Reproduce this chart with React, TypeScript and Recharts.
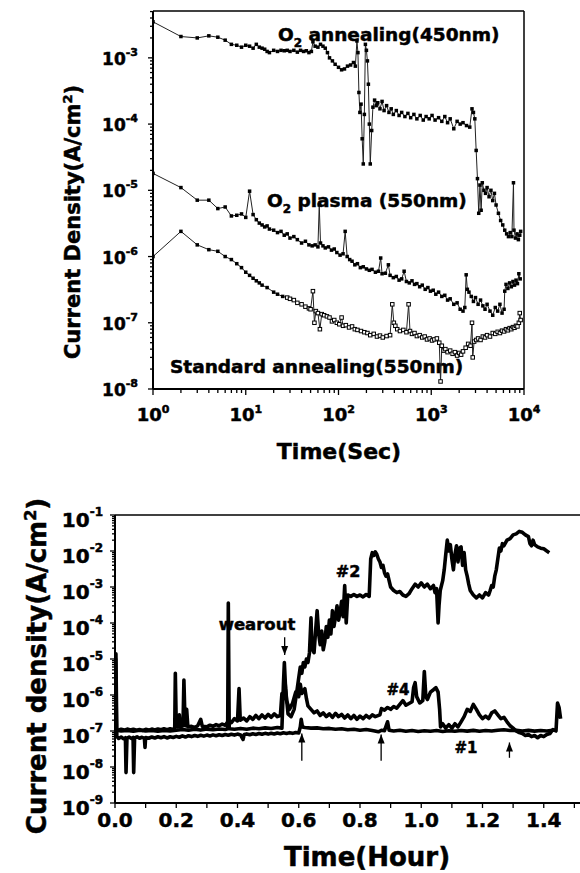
import React from "react";
import {
  LineChart, Line, XAxis, YAxis, ReferenceLine, ReferenceDot, Customized
} from "recharts";

const FONT = "'DejaVu Sans', 'Liberation Sans', Arial, sans-serif";

// ---- top panel: current density vs time (sec), log-log ----
const o2Anneal450: [number, number][] = [
  [1, 3.5e-3], [2, 2.1e-3], [3, 2.0e-3], [4, 2.15e-3], [5, 2.05e-3], [6, 1.85e-3], [7, 1.6e-3],
  [8, 1.55e-3], [9, 1.45e-3], [10, 1.55e-3], [11, 1.5e-3], [12, 1.4e-3], [13, 1.6e-3], [14, 1.45e-3],
  [15, 1.4e-3], [16, 1.35e-3], [17, 1.25e-3], [18, 1.2e-3], [20, 1.3e-3], [22, 1.25e-3], [24, 1.3e-3],
  [26, 1.28e-3], [28, 1.3e-3], [30, 1.25e-3], [33, 1.3e-3], [36, 1.22e-3], [39, 1.3e-3], [42, 1.25e-3],
  [45, 1.28e-3], [48, 1.2e-3], [51, 1.25e-3], [53, 1.75e-3], [56, 1.5e-3], [60, 1.45e-3], [64, 1.6e-3],
  [68, 1.5e-3], [72, 1.4e-3], [76, 1.2e-3], [80, 1.0e-3], [86, 9e-4], [92, 8e-4], [100, 7.2e-4],
  [108, 6.6e-4], [116, 6.8e-4], [125, 7.5e-4], [135, 7.8e-4], [145, 8.5e-4], [152, 7.5e-4], [158, 1.8e-3],
  [162, 1.2e-3], [166, 3e-4], [170, 1.5e-4], [175, 2e-4], [180, 6e-5], [185, 2.5e-5], [190, 1.4e-4],
  [195, 1.6e-3], [200, 1.3e-3], [205, 9e-4], [210, 4e-4], [215, 1e-4], [220, 2.5e-5], [228, 8e-5],
  [235, 1.8e-4], [245, 2.3e-4], [255, 1.9e-4], [265, 2.1e-4], [280, 1.7e-4], [295, 2.2e-4], [310, 1.6e-4],
  [330, 1.9e-4], [350, 1.5e-4], [370, 1.7e-4], [390, 1.4e-4], [420, 1.6e-4], [450, 1.35e-4], [480, 1.5e-4],
  [520, 1.3e-4], [560, 1.45e-4], [600, 1.25e-4], [650, 1.4e-4], [700, 1.2e-4], [760, 1.35e-4], [820, 1.15e-4],
  [880, 1.3e-4], [950, 1.2e-4], [1020, 1.35e-4], [1100, 1.15e-4], [1200, 1.25e-4], [1300, 1.1e-4],
  [1400, 1.3e-4], [1500, 1.05e-4], [1600, 1.2e-4], [1750, 8.5e-5], [1900, 1.1e-4], [2050, 1.0e-4],
  [2200, 1.05e-4], [2400, 9.5e-5], [2600, 9e-5], [2750, 1.7e-4], [2850, 1.5e-4], [2950, 1.2e-4],
  [3050, 4e-5], [3150, 1.5e-5], [3250, 4.5e-6], [3350, 1.2e-5], [3450, 5e-6], [3550, 1.3e-5],
  [3700, 1.0e-5], [3850, 9e-6], [4000, 1.1e-5], [4200, 8e-6], [4400, 1.0e-5], [4600, 7e-6], [4800, 9e-6],
  [5000, 6e-6], [5300, 4.5e-6], [5600, 3.5e-6], [5900, 3e-6], [6200, 2.5e-6], [6500, 2.2e-6], [6800, 2.0e-6],
  [7100, 2.3e-6], [7400, 2.0e-6], [7700, 1.3e-5], [7800, 2.5e-6], [8100, 1.9e-6], [8400, 2.2e-6],
  [8700, 1.8e-6], [9000, 2.1e-6], [9200, 2.4e-6],
];

const o2Plasma550: [number, number][] = [
  [1, 1.8e-5], [2, 1.1e-5], [3, 7.1e-6], [4, 7.1e-6], [5, 5.3e-6], [6, 5.6e-6], [7, 4.1e-6], [8, 4.2e-6],
  [9, 4.4e-6], [10, 3.9e-6], [11, 9.7e-6], [12, 4.3e-6], [13, 3.6e-6], [14, 3.2e-6], [15, 3.0e-6],
  [16, 2.8e-6], [17, 2.9e-6], [18, 2.6e-6], [20, 2.5e-6], [22, 2.3e-6], [24, 2.4e-6], [26, 2.1e-6],
  [28, 2.2e-6], [30, 1.9e-6], [33, 2.0e-6], [36, 1.8e-6], [40, 1.6e-6], [44, 1.7e-6], [48, 1.5e-6],
  [52, 1.45e-6], [56, 1.5e-6], [60, 1.4e-6], [62, 6e-6], [64, 1.6e-6], [68, 1.45e-6], [72, 1.35e-6],
  [78, 1.4e-6], [84, 1.25e-6], [90, 1.3e-6], [96, 1.15e-6], [104, 1.05e-6], [112, 1.1e-6], [118, 2.4e-6],
  [124, 1.0e-6], [132, 9e-7], [140, 8.5e-7], [150, 7.5e-7], [160, 7.8e-7], [172, 6.8e-7], [185, 7e-7],
  [200, 6.5e-7], [215, 6.2e-7], [230, 6.4e-7], [250, 5.8e-7], [270, 6e-7], [285, 9.5e-7], [295, 5.5e-7],
  [320, 5.6e-7], [345, 7.5e-7], [360, 5.2e-7], [390, 4.8e-7], [420, 5e-7], [450, 4.4e-7], [480, 4.6e-7],
  [510, 6e-7], [540, 4.2e-7], [580, 4.0e-7], [620, 4.3e-7], [660, 3.8e-7], [700, 3.9e-7], [750, 3.5e-7],
  [800, 3.7e-7], [860, 3.2e-7], [920, 3.4e-7], [980, 3.0e-7], [1050, 3.1e-7], [1120, 2.7e-7],
  [1200, 2.9e-7], [1300, 2.5e-7], [1400, 2.6e-7], [1500, 2.2e-7], [1600, 2.3e-7], [1750, 1.9e-7],
  [1900, 2.0e-7], [2050, 1.6e-7], [2200, 1.5e-7], [2300, 1.7e-7], [2380, 5.3e-7], [2450, 3.2e-7],
  [2550, 2.9e-7], [2700, 2.5e-7], [2850, 2.1e-7], [3000, 2.4e-7], [3200, 1.9e-7], [3400, 2.2e-7],
  [3600, 1.8e-7], [3800, 1.6e-7], [4000, 1.9e-7], [4300, 1.5e-7], [4600, 1.3e-7], [4900, 1.7e-7],
  [5200, 1.5e-7], [5500, 1.9e-7], [5800, 1.4e-7], [6100, 1.6e-7], [6200, 3e-7], [6400, 3.8e-7],
  [6700, 3.3e-7], [7000, 4.0e-7], [7300, 3.5e-7], [7600, 4.2e-7], [7900, 3.7e-7], [8200, 4.4e-7],
  [8500, 3.9e-7], [8800, 5.5e-7], [9100, 4.6e-7],
];

const stdAnneal550: [number, number][] = [
  [1, 1.0e-6], [2, 2.4e-6], [3, 1.5e-6], [4, 1.27e-6], [5, 1.2e-6], [6, 1.0e-6], [7, 9e-7], [8, 7.8e-7],
  [9, 6.8e-7], [10, 5.8e-7], [11, 5.2e-7], [12, 4.7e-7], [13, 4.3e-7], [14, 4.0e-7], [15, 3.7e-7],
  [17, 3.4e-7], [20, 2.9e-7], [22, 2.7e-7], [25, 2.5e-7], [28, 2.4e-7], [30, 2.3e-7], [33, 2.2e-7],
  [36, 2.0e-7], [40, 1.9e-7], [44, 1.75e-7], [48, 1.65e-7], [50, 1.6e-7], [53, 3.0e-7], [55, 1.0e-7],
  [57, 1.5e-7], [60, 1.4e-7], [63, 8e-8], [66, 1.35e-7], [70, 1.3e-7], [75, 1.25e-7], [80, 1.2e-7],
  [85, 1.05e-7], [90, 1.1e-7], [96, 1.0e-7], [102, 9.5e-8], [108, 1.2e-7], [112, 9e-8], [120, 9.2e-8],
  [130, 8.5e-8], [140, 8.8e-8], [150, 8e-8], [160, 7.8e-8], [175, 7.5e-8], [190, 7.2e-8], [205, 7.0e-8],
  [220, 6.5e-8], [240, 6.8e-8], [260, 6.2e-8], [280, 6.4e-8], [300, 6.0e-8], [330, 6.3e-8], [360, 6.5e-8],
  [380, 1.9e-7], [395, 1.0e-7], [410, 9e-8], [430, 8e-8], [460, 7.5e-8], [500, 7.8e-8], [540, 7.2e-8],
  [570, 1.9e-7], [590, 7.5e-8], [620, 6.8e-8], [660, 7e-8], [700, 6.3e-8], [750, 6.5e-8], [800, 6.0e-8],
  [850, 6.2e-8], [900, 5.6e-8], [960, 5.8e-8], [1020, 5.4e-8], [1080, 5.6e-8], [1150, 5.8e-8], [1220, 5e-8],
  [1260, 1.3e-8], [1300, 4.5e-8], [1360, 3.8e-8], [1420, 4e-8], [1500, 3.6e-8], [1600, 3.8e-8],
  [1700, 3.4e-8], [1800, 3.6e-8], [1900, 3.2e-8], [2000, 3.5e-8], [2100, 3.3e-8], [2200, 3.7e-8],
  [2350, 4.2e-8], [2500, 4.8e-8], [2650, 4.5e-8], [2750, 1.0e-7], [2800, 3e-8], [2900, 5.2e-8],
  [3050, 5.5e-8], [3200, 5.8e-8], [3400, 5.5e-8], [3600, 6.2e-8], [3800, 6e-8], [4000, 6.5e-8],
  [4300, 6.2e-8], [4600, 7e-8], [4900, 6.8e-8], [5200, 7.3e-8], [5500, 7e-8], [5800, 7.6e-8],
  [6100, 7.4e-8], [6400, 8e-8], [6700, 7.7e-8], [7000, 8.3e-8], [7300, 8e-8], [7600, 8.6e-8],
  [7900, 8.4e-8], [8200, 9e-8], [8500, 8.8e-8], [8800, 1.0e-7], [9000, 1.4e-7], [9200, 1.1e-7],
];

// ---- bottom panel: current density vs time (hour), log y ----
const sample1: [number, number][] = [
  [0, 8e-8], [0.003, 1.4e-5], [0.006, 7e-8], [0.012, 6.2e-8], [0.02, 6.8e-8], [0.028, 6.1e-8],
  [0.034, 6.5e-8], [0.036, 7e-9], [0.039, 6.3e-8], [0.046, 6.8e-8], [0.054, 6.2e-8], [0.059, 6.6e-8],
  [0.061, 7e-9], [0.064, 6.4e-8], [0.072, 6.9e-8], [0.08, 6.3e-8], [0.088, 6.7e-8], [0.096, 6.2e-8],
  [0.098, 3.5e-8], [0.1, 6.6e-8], [0.11, 6.3e-8], [0.12, 6.8e-8], [0.13, 6.4e-8], [0.14, 6.9e-8],
  [0.15, 6.5e-8], [0.16, 7e-8], [0.17, 6.4e-8], [0.18, 6.9e-8], [0.19, 6.6e-8], [0.2, 7.1e-8],
  [0.21, 6.7e-8], [0.22, 7.3e-8], [0.23, 6.8e-8], [0.24, 7.4e-8], [0.25, 7e-8], [0.26, 7.5e-8],
  [0.27, 7.1e-8], [0.28, 7.6e-8], [0.29, 7.2e-8], [0.3, 7.7e-8], [0.31, 7.3e-8], [0.32, 7.8e-8],
  [0.33, 7.4e-8], [0.34, 7.9e-8], [0.35, 7.5e-8], [0.36, 8e-8], [0.37, 7.6e-8], [0.38, 8.1e-8],
  [0.39, 7.7e-8], [0.4, 8.2e-8], [0.41, 7.8e-8], [0.418, 5.8e-8], [0.422, 8e-8], [0.43, 8.3e-8],
  [0.44, 7.9e-8], [0.45, 8.4e-8], [0.46, 8e-8], [0.47, 8.5e-8], [0.48, 8.1e-8], [0.49, 8.6e-8],
  [0.5, 8.2e-8], [0.51, 8.7e-8], [0.52, 8.3e-8], [0.53, 8.8e-8], [0.54, 8.4e-8], [0.55, 8.9e-8],
  [0.56, 8.5e-8], [0.57, 9e-8], [0.58, 8.6e-8], [0.59, 9.1e-8], [0.6, 8.8e-8], [0.605, 1.3e-7],
  [0.608, 2.1e-7], [0.612, 1.3e-7], [0.62, 1.25e-7], [0.64, 1.2e-7], [0.66, 1.22e-7], [0.68, 1.15e-7],
  [0.7, 1.18e-7], [0.72, 1.12e-7], [0.74, 1.15e-7], [0.76, 1.08e-7], [0.78, 1.12e-7], [0.8, 1.05e-7],
  [0.82, 1.1e-7], [0.84, 1.03e-7], [0.86, 9.5e-8], [0.87, 1.05e-7], [0.88, 1.02e-7], [0.89, 1.8e-7],
  [0.895, 1.05e-7], [0.91, 1.0e-7], [0.93, 1.05e-7], [0.95, 9.8e-8], [0.97, 1.03e-7], [0.99, 9.7e-8],
  [1.01, 1.02e-7], [1.03, 9.8e-8], [1.05, 1.03e-7], [1.07, 9.7e-8], [1.09, 1.02e-7], [1.11, 9.8e-8],
  [1.13, 1.03e-7], [1.15, 9.9e-8], [1.17, 1.04e-7], [1.19, 9.8e-8], [1.21, 1.03e-7], [1.23, 1.0e-7],
  [1.25, 1.05e-7], [1.27, 1.08e-7], [1.29, 1.03e-7], [1.31, 1.05e-7], [1.33, 1.0e-7], [1.35, 1.04e-7],
  [1.37, 9.9e-8], [1.39, 1.03e-7], [1.41, 1.0e-7], [1.43, 1.05e-7],
];

const sample4: [number, number][] = [
  [0, 1.1e-7], [0.01, 1.05e-7], [0.02, 1.12e-7], [0.03, 1.06e-7], [0.04, 1.13e-7], [0.05, 1.07e-7],
  [0.06, 1.12e-7], [0.07, 1.05e-7], [0.08, 1.1e-7], [0.09, 1.04e-7], [0.1, 1.11e-7], [0.11, 1.06e-7],
  [0.12, 1.13e-7], [0.13, 1.07e-7], [0.14, 1.14e-7], [0.15, 1.08e-7], [0.16, 1.15e-7], [0.17, 1.09e-7],
  [0.18, 1.16e-7], [0.19, 1.1e-7], [0.195, 1.2e-7], [0.197, 4e-6], [0.2, 1.5e-7], [0.205, 1.3e-7],
  [0.21, 2.8e-7], [0.213, 1.3e-7], [0.222, 1.4e-7], [0.225, 2.6e-6], [0.229, 1.4e-7], [0.234, 4e-7],
  [0.238, 1.3e-7], [0.25, 1.35e-7], [0.26, 1.25e-7], [0.27, 1.4e-7], [0.28, 2.1e-7], [0.285, 1.35e-7],
  [0.3, 1.3e-7], [0.31, 1.45e-7], [0.32, 1.35e-7], [0.33, 1.5e-7], [0.34, 1.4e-7], [0.35, 1.55e-7],
  [0.36, 1.45e-7], [0.37, 1.9e-7], [0.38, 1.7e-7], [0.39, 2.2e-7], [0.4, 1.9e-7], [0.405, 1.5e-6],
  [0.409, 2e-7], [0.42, 2.3e-7], [0.43, 1.9e-7], [0.44, 2.5e-7], [0.45, 2.1e-7], [0.46, 2.7e-7],
  [0.47, 2.2e-7], [0.48, 2.8e-7], [0.49, 2.3e-7], [0.5, 2.9e-7], [0.51, 2.4e-7], [0.52, 3e-7],
  [0.53, 2.5e-7], [0.54, 2.7e-7], [0.545, 1.1e-6], [0.55, 8e-7], [0.555, 2.5e-6], [0.56, 7e-7],
  [0.57, 4e-7], [0.58, 6e-7], [0.59, 1.2e-6], [0.6, 9e-7], [0.605, 2e-6], [0.61, 1.1e-6], [0.62, 1.5e-6],
  [0.625, 8e-7], [0.63, 5e-7], [0.64, 4e-7], [0.65, 3.2e-7], [0.66, 3.6e-7], [0.67, 2.7e-7],
  [0.68, 3.2e-7], [0.69, 2.5e-7], [0.7, 3e-7], [0.71, 2.4e-7], [0.72, 3.1e-7], [0.73, 2.5e-7],
  [0.74, 2.9e-7], [0.75, 2.3e-7], [0.76, 2.8e-7], [0.77, 2.2e-7], [0.78, 2.7e-7], [0.79, 2.1e-7],
  [0.8, 2.6e-7], [0.81, 2.2e-7], [0.82, 2.7e-7], [0.83, 2.3e-7], [0.84, 2.8e-7], [0.85, 2.5e-7],
  [0.865, 2.8e-7], [0.87, 4.2e-7], [0.88, 3.8e-7], [0.89, 4.5e-7], [0.9, 4e-7], [0.91, 4.8e-7],
  [0.92, 4.3e-7], [0.93, 5.5e-7], [0.94, 7e-7], [0.95, 5.2e-7], [0.96, 5.8e-7], [0.97, 6.5e-7],
  [0.975, 1.6e-6], [0.98, 2.2e-6], [0.985, 9e-7], [0.995, 6e-7], [1.005, 7e-7], [1.01, 4.5e-6],
  [1.015, 9e-7], [1.02, 7.5e-7], [1.03, 1.2e-6], [1.04, 1.4e-6], [1.048, 1.6e-6], [1.055, 1.2e-6],
  [1.06, 4e-7], [1.063, 1.3e-7], [1.07, 1.6e-7], [1.08, 1.2e-7], [1.09, 1.5e-7], [1.1, 1.2e-7],
  [1.11, 1.6e-7], [1.12, 1.3e-7], [1.13, 1.8e-7], [1.14, 2.5e-7], [1.15, 4e-7], [1.16, 3.5e-7],
  [1.17, 5.5e-7], [1.18, 4e-7], [1.19, 2.8e-7], [1.2, 2.2e-7], [1.21, 2.6e-7], [1.22, 2.2e-7],
  [1.23, 3.2e-7], [1.24, 3.6e-7], [1.25, 2.8e-7], [1.26, 2.2e-7], [1.27, 2.4e-7], [1.28, 1.8e-7],
  [1.29, 1.4e-7], [1.3, 1.2e-7], [1.31, 1e-7], [1.32, 9e-8], [1.33, 8.5e-8], [1.34, 7.5e-8],
  [1.35, 8e-8], [1.36, 7e-8], [1.37, 7.5e-8], [1.38, 6.5e-8], [1.39, 7.5e-8], [1.4, 7e-8], [1.41, 8e-8],
  [1.42, 8.5e-8], [1.43, 1.1e-7], [1.44, 1.0e-7], [1.445, 6e-7], [1.45, 4.5e-7], [1.455, 2.2e-7],
];

const sample2: [number, number][] = [
  [0, 1.0e-7], [0.002, 1e-5], [0.005, 1.05e-7], [0.02, 1e-7], [0.04, 1.04e-7], [0.06, 9.8e-8],
  [0.08, 1.05e-7], [0.1, 1e-7], [0.12, 1.04e-7], [0.14, 9.9e-8], [0.16, 1.04e-7], [0.18, 1e-7],
  [0.2, 1.05e-7], [0.22, 1.1e-7], [0.24, 1.05e-7], [0.26, 1.12e-7], [0.28, 1.06e-7], [0.3, 1.13e-7],
  [0.32, 1.08e-7], [0.34, 1.14e-7], [0.36, 1.1e-7], [0.368, 1.15e-7], [0.37, 3.6e-4], [0.373, 1.15e-7],
  [0.39, 1.12e-7], [0.41, 1.18e-7], [0.43, 1.12e-7], [0.45, 1.2e-7], [0.47, 1.15e-7], [0.49, 1.22e-7],
  [0.51, 1.17e-7], [0.53, 1.25e-7], [0.545, 1.2e-7], [0.55, 2e-6], [0.553, 8e-6], [0.557, 1.5e-6],
  [0.565, 3e-7], [0.575, 2.5e-7], [0.585, 4e-7], [0.595, 1.5e-6], [0.6, 3e-6], [0.605, 6e-6],
  [0.61, 4e-6], [0.615, 8e-6], [0.62, 6e-6], [0.625, 1e-5], [0.63, 8e-6], [0.635, 1.5e-5],
  [0.64, 1.4e-4], [0.643, 2e-5], [0.65, 1.5e-5], [0.655, 6e-5], [0.66, 2.2e-4], [0.665, 5e-5],
  [0.67, 2.5e-5], [0.675, 6e-5], [0.68, 1.8e-5], [0.685, 3e-5], [0.69, 8e-5], [0.695, 4e-5],
  [0.7, 1.2e-4], [0.705, 5e-5], [0.71, 2.2e-4], [0.715, 8e-5], [0.72, 1.5e-4], [0.725, 3e-4],
  [0.73, 1.2e-4], [0.735, 2e-4], [0.74, 4e-4], [0.745, 1.5e-4], [0.75, 1.1e-3], [0.755, 1e-4],
  [0.76, 6e-4], [0.77, 5.5e-4], [0.78, 6.2e-4], [0.79, 5.5e-4], [0.8, 6e-4], [0.81, 5.3e-4],
  [0.82, 6.2e-4], [0.83, 5.5e-4], [0.835, 6e-3], [0.84, 9e-3], [0.845, 7.5e-3], [0.85, 9.5e-3],
  [0.855, 8e-3], [0.86, 6e-3], [0.865, 5e-3], [0.87, 3.5e-3], [0.875, 4e-3], [0.88, 2.5e-3],
  [0.885, 2e-3], [0.89, 2.3e-3], [0.895, 1.5e-3], [0.9, 1e-3], [0.91, 8e-4], [0.92, 7e-4],
  [0.93, 7.5e-4], [0.94, 6e-4], [0.95, 5.5e-4], [0.96, 6.5e-4], [0.97, 9e-4], [0.98, 1.2e-3],
  [0.99, 1e-3], [1.0, 1.3e-3], [1.01, 1e-3], [1.02, 1.2e-3], [1.03, 9e-4], [1.04, 1.1e-3],
  [1.045, 7e-4], [1.05, 9e-4], [1.055, 1e-4], [1.058, 3e-4], [1.062, 8e-4], [1.07, 1.5e-3],
  [1.075, 3e-3], [1.08, 8e-3], [1.085, 2e-2], [1.09, 1e-2], [1.095, 1.5e-2], [1.1, 6e-3], [1.105, 3e-3],
  [1.11, 8e-3], [1.115, 1.4e-2], [1.12, 5e-3], [1.125, 1.2e-2], [1.13, 1.3e-2], [1.135, 4e-3],
  [1.14, 9e-3], [1.145, 3e-3], [1.15, 2e-3], [1.155, 1.2e-3], [1.16, 8e-4], [1.17, 6e-4], [1.18, 5e-4],
  [1.19, 6e-4], [1.2, 5e-4], [1.21, 7e-4], [1.22, 6e-4], [1.225, 8e-4], [1.23, 1.1e-3], [1.235, 1e-3],
  [1.24, 2e-3], [1.245, 3e-3], [1.25, 6e-3], [1.255, 1.2e-2], [1.26, 1e-2], [1.265, 1.6e-2],
  [1.27, 1.4e-2], [1.28, 2e-2], [1.29, 2.2e-2], [1.3, 2.8e-2], [1.31, 3e-2], [1.32, 3.5e-2],
  [1.33, 3.3e-2], [1.34, 2.8e-2], [1.35, 2.5e-2], [1.355, 1.6e-2], [1.36, 1.4e-2], [1.365, 2e-2],
  [1.37, 1.5e-2], [1.38, 1.3e-2], [1.39, 1.2e-2], [1.4, 1.15e-2], [1.41, 1e-2], [1.418, 9e-3],
];

// arrows in the lower panel: [time, tail, tip]
const upArrows: [number, number, number][] = [
  [0.61, 1.5e-8, 8.5e-8], [0.869, 1.5e-8, 8e-8], [1.288, 1.8e-8, 4.8e-8],
];
const wearoutArrow: [number, number, number] = [0.554, 4e-5, 1.3e-5];

const bottomXTicks = [0, 0.1, 0.2, 0.3, 0.4, 0.5, 0.6, 0.7, 0.8, 0.9, 1.0, 1.1, 1.2, 1.3, 1.4, 1.5];

const logTicks = (lo: number, hi: number, max: number) => {
  const out: number[] = [];
  for (let e = lo; e <= hi; e++) {
    for (let m = 1; m <= 9; m++) {
      const v = m * Math.pow(10, e);
      if (v <= max * 1.0001) out.push(v);
    }
  }
  return out;
};
const topXTicks = logTicks(0, 4, 1e4);
const topYTicks = logTicks(-8, -3, 5.1e-3);
const bottomYTicks = logTicks(-9, -1, 0.1);

const rows = (pts: [number, number][]) => pts.map(([t, v]) => ({ t, v }));

const isDecade = (v: number) => {
  const l = Math.log10(v);
  return Math.abs(l - Math.round(l)) < 1e-6;
};

const M = 4; // tick margin, used to get the axis position back in custom ticks

// heavy text: bold face plus a thin outline, closer to the black face of the original
const bold = {
  fontFamily: FONT, fontWeight: "bold" as const, fill: "#000",
  stroke: "#000", strokeWidth: 0.5, paintOrder: "stroke" as const,
};

function LeftLogTick(props: any) {
  const { x, y, payload, fs, sfs, gap, base, sup, major, minor } = props;
  const v = payload.value;
  const ax = x + M;
  const dec = isDecade(v);
  return (
    <g>
      <line x1={ax} x2={ax - (dec ? major : minor)} y1={y} y2={y} stroke="#000" strokeWidth={1.3} />
      {dec && (
        <text x={ax - gap} y={y + base} textAnchor="end" fontSize={fs} {...bold}>
          10<tspan dy={-sup} fontSize={sfs}>{Math.round(Math.log10(v))}</tspan>
        </text>
      )}
    </g>
  );
}

function TopXTick(props: any) {
  const { x, y, payload } = props;
  const v = payload.value;
  const ay = y - M;
  const dec = isDecade(v);
  return (
    <g>
      <line x1={x} x2={x} y1={ay} y2={ay + (dec ? 6 : 4)} stroke="#000" strokeWidth={1.3} />
      {dec && (
        <text x={x} y={ay + 32} textAnchor="middle" fontSize={18} {...bold}>
          10<tspan dy={-8} fontSize={11}>{Math.round(Math.log10(v))}</tspan>
        </text>
      )}
    </g>
  );
}

function BottomXTick(props: any) {
  const { x, y, payload } = props;
  const v = payload.value;
  const ay = y - M;
  const major = Math.round(v * 10) % 2 === 0;
  return (
    <g>
      <line x1={x} x2={x} y1={ay} y2={ay + 5} stroke="#000" strokeWidth={1.3} />
      {major && v < 1.45 && (
        <text x={x} y={ay + 24} textAnchor="middle" fontSize={20} {...bold}>
          {v.toFixed(1)}
        </text>
      )}
    </g>
  );
}

const squareDot = (hollowAfter: number, size: number) => (p: any) => {
  if (p.cx == null || p.cy == null) return <g key={p.index} />;
  const hollow = p.payload.t > hollowAfter;
  return (
    <rect key={p.index} x={p.cx - size / 2} y={p.cy - size / 2} width={size} height={size}
      fill={hollow ? "#fff" : "#000"} stroke="#000" strokeWidth={hollow ? 1 : 0} />
  );
};

const arrowHead = (dir: number) => (p: any) => (
  <polygon
    points={`${p.cx},${p.cy} ${p.cx - 3.5},${p.cy + dir * 9} ${p.cx + 3.5},${p.cy + dir * 9}`}
    fill="#000"
  />
);

function TopNotes() {
  return (
    <g>
      <text x={278} y={41} fontSize={18.5} {...bold}>
        O<tspan dy={6} fontSize={12}>2</tspan><tspan dy={-6}> annealing(450nm)</tspan>
      </text>
      <text x={267} y={207} fontSize={18.5} {...bold}>
        O<tspan dy={6} fontSize={12}>2</tspan><tspan dy={-6}> plasma (550nm)</tspan>
      </text>
      <text x={170} y={373} fontSize={18.5} {...bold}>Standard annealing(550nm)</text>
      <text x={339} y={459} fontSize={22} textAnchor="middle" {...bold}>Time(Sec)</text>
      <text x={80} y={222} fontSize={21} textAnchor="middle" transform="rotate(-90 80 222)" {...bold}>
        Current Density(A/cm<tspan dy={-8} fontSize={13}>2</tspan><tspan dy={8}>)</tspan>
      </text>
    </g>
  );
}

function BottomNotes() {
  return (
    <g>
      <text x={257} y={150} fontSize={16.5} textAnchor="middle" {...bold}>wearout</text>
      <text x={348} y={97} fontSize={16} textAnchor="middle" {...bold}>#2</text>
      <text x={398} y={215} fontSize={15} textAnchor="middle" {...bold}>#4</text>
      <text x={466} y={273} fontSize={15} textAnchor="middle" {...bold}>#1</text>
      <text x={367} y={386} fontSize={26} textAnchor="middle" {...bold}>Time(Hour)</text>
      <text x={46} y={186} fontSize={26} textAnchor="middle" transform="rotate(-90 46 186)" {...bold}>
        Current density(A/cm<tspan dy={-10} fontSize={16}>2</tspan><tspan dy={10}>)</tspan>
      </text>
    </g>
  );
}

export default function App() {
  const topYMax = 5.1e-3;
  return (
    <div style={{ position: "absolute", left: 0, top: 0, width: 580, height: 873, overflow: "hidden", background: "#fff" }}>
      <div style={{ position: "absolute", left: 0, top: 0 }}>
        <LineChart width={580} height={470} margin={{ top: 11, right: 56, bottom: 51, left: 93 }}>
          <XAxis dataKey="t" type="number" scale="log" domain={[1, 1e4]} ticks={topXTicks}
            interval={0} allowDataOverflow tickLine={false} tickSize={0} tickMargin={M} height={30}
            axisLine={{ stroke: "#000", strokeWidth: 2 }} tick={(p: any) => <TopXTick {...p} />} />
          <YAxis type="number" scale="log" domain={[1e-8, topYMax]} ticks={topYTicks} interval={0}
            allowDataOverflow tickLine={false} tickSize={0} tickMargin={M} width={60}
            axisLine={{ stroke: "#000", strokeWidth: 2 }}
            tick={(p: any) => <LeftLogTick {...p} fs={17} sfs={11} gap={15} base={7} sup={9} major={5} minor={3} />} />
          <ReferenceLine y={topYMax} stroke="#000" strokeWidth={1.5} />
          <ReferenceLine x={1e4} stroke="#000" strokeWidth={1.5} />
          <Line data={rows(o2Anneal450)} dataKey="v" stroke="#222" strokeWidth={1}
            dot={squareDot(1e9, 3.5)} isAnimationActive={false} />
          <Line data={rows(o2Plasma550)} dataKey="v" stroke="#222" strokeWidth={1}
            dot={squareDot(1e9, 3.5)} isAnimationActive={false} />
          <Line data={rows(stdAnneal550)} dataKey="v" stroke="#222" strokeWidth={1}
            dot={squareDot(25, 3.5)} isAnimationActive={false} />
          <Customized component={<TopNotes />} />
        </LineChart>
      </div>
      <div style={{ position: "absolute", left: 0, top: 480 }}>
        <LineChart width={620} height={393} margin={{ top: 35, right: 15, bottom: 40, left: 55 }}>
          <XAxis dataKey="t" type="number" domain={[0, 1.6]} ticks={bottomXTicks} interval={0}
            allowDataOverflow tickLine={false} tickSize={0} tickMargin={M} height={30}
            axisLine={{ stroke: "#000", strokeWidth: 2 }} tick={(p: any) => <BottomXTick {...p} />} />
          <YAxis type="number" scale="log" domain={[1e-9, 0.1]} ticks={bottomYTicks} interval={0}
            allowDataOverflow tickLine={false} tickSize={0} tickMargin={M} width={60}
            axisLine={{ stroke: "#000", strokeWidth: 2 }}
            tick={(p: any) => <LeftLogTick {...p} fs={20} sfs={12} gap={12} base={12} sup={11} major={5} minor={3} />} />
          <ReferenceLine y={0.1} stroke="#000" strokeWidth={1.5} />
          <Line data={rows(sample1)} dataKey="v" stroke="#000" strokeWidth={3.6} dot={false}
            strokeLinejoin="round" isAnimationActive={false} />
          <Line data={rows(sample4)} dataKey="v" stroke="#000" strokeWidth={3.6} dot={false}
            strokeLinejoin="round" isAnimationActive={false} />
          <Line data={rows(sample2)} dataKey="v" stroke="#000" strokeWidth={3.6} dot={false}
            strokeLinejoin="round" isAnimationActive={false} />
          {upArrows.map(([t, tail, tip]) => (
            <ReferenceLine key={`s${t}`} segment={[{ x: t, y: tail }, { x: t, y: tip }]} stroke="#000" strokeWidth={1.3} />
          ))}
          {upArrows.map(([t, , tip]) => (
            <ReferenceDot key={`h${t}`} x={t} y={tip} r={1} shape={arrowHead(1)} />
          ))}
          <ReferenceLine segment={[{ x: wearoutArrow[0], y: wearoutArrow[1] }, { x: wearoutArrow[0], y: wearoutArrow[2] }]}
            stroke="#000" strokeWidth={1.3} />
          <ReferenceDot x={wearoutArrow[0]} y={wearoutArrow[2]} r={1} shape={arrowHead(-1)} />
          <Customized component={<BottomNotes />} />
        </LineChart>
      </div>
    </div>
  );
}
